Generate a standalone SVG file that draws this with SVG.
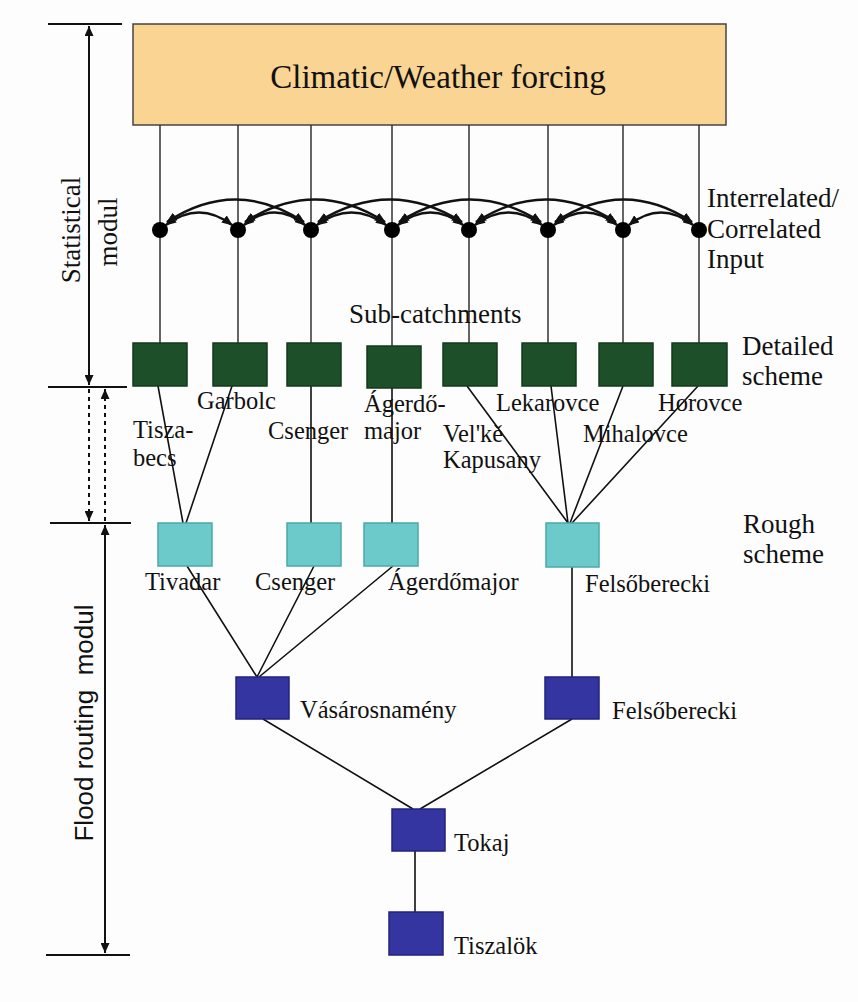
<svg xmlns="http://www.w3.org/2000/svg" width="858" height="1002" viewBox="0 0 858 1002">
<defs>
<style>
.t{font-family:"Liberation Serif","Times New Roman",serif;fill:#111;}
.st{font-size:24.5px;}
.lg{font-size:27px;}
.ln{stroke:#333;stroke-width:1.5;fill:none;}
.rl{stroke:#111;stroke-width:1.6;fill:none;}
.sc{stroke:#111;stroke-width:2;fill:none;}
.arc{stroke:#111;stroke-width:2.4;fill:none;marker-start:url(#ah);marker-end:url(#ah);}
.dg{fill:#1d4f29;stroke:#123a1c;stroke-width:1.5;}
.cy{fill:#6ccaca;stroke:#4aa8a8;stroke-width:1.5;}
.bl{fill:#3535a2;stroke:#22227a;stroke-width:1.5;}
</style>
<marker id="sa" markerWidth="10" markerHeight="9" refX="10" refY="4.5" orient="auto-start-reverse" markerUnits="userSpaceOnUse"><path d="M0,0 L10,4.5 L0,9 z" fill="#111"/></marker>
<marker id="ah" markerWidth="11" markerHeight="9" refX="10" refY="4.5" orient="auto-start-reverse" markerUnits="userSpaceOnUse"><path d="M0,0 L11,4.5 L0,9 z" fill="#111"/></marker>
</defs>
<rect width="858" height="1002" fill="#fdfdfd"/>

<g id="scale">
<path class="sc" d="M48,24 H122 M48,387 H127 M50,523 H131 M46,955 H130" stroke-width="1.5"/>
<path class="sc" d="M89,26 V385" marker-start="url(#sa)" marker-end="url(#sa)"/>
<path class="sc" d="M89,389 V521" stroke-dasharray="4 4" marker-end="url(#sa)"/>
<path class="sc" d="M105,521 V389" stroke-dasharray="4 4" marker-end="url(#sa)"/>
<path class="sc" d="M105,525 V953" marker-start="url(#sa)" marker-end="url(#sa)"/>
<text class="t" font-size="27" text-anchor="middle" transform="translate(80,230) rotate(-90)">Statistical</text>
<text class="t" font-size="27" text-anchor="middle" transform="translate(117,232) rotate(-90)">modul</text>
<text xml:space="preserve" style="white-space:pre" font-family="'Liberation Sans',Arial,sans-serif" font-size="26" fill="#111" text-anchor="middle" transform="translate(93,723) rotate(-90)">Flood routing  modul</text>
</g>

<g id="forcing">
<rect x="133" y="24" width="593" height="101" fill="#f9d492" stroke="#444" stroke-width="1.5"/>
<text class="t" x="438" y="88" font-size="33" text-anchor="middle">Climatic/Weather forcing</text>
</g>

<g id="connectors">
<path class="ln" d="M160,125 V343 M238,125 V343 M311,125 V343 M392,125 V346 M469,125 V343 M548,125 V343 M623,125 V343 M699,125 V343"/>
<g id="correlations">
<path class="arc" d="M166,225 Q199,200 232,225"/>
<path class="arc" d="M244,225 Q274.5,200 305,225"/>
<path class="arc" d="M317,225 Q351.5,200 386,225"/>
<path class="arc" d="M398,225 Q430.5,200 463,225"/>
<path class="arc" d="M475,225 Q508.5,200 542,225"/>
<path class="arc" d="M554,225 Q585.5,200 617,225"/>
<path class="arc" d="M629,225 Q661,200 693,225"/>
<path class="arc" d="M167,222 Q235.5,177 304,222"/>
<path class="arc" d="M245,222 Q315,177 385,222"/>
<path class="arc" d="M318,222 Q390,177 462,222"/>
<path class="arc" d="M399,222 Q470,177 541,222"/>
<path class="arc" d="M476,222 Q546,177 616,222"/>
<path class="arc" d="M555,222 Q624,177 692,222"/>
</g>
<path class="rl" d="M158,386 L183,523 M233,383 L186,523 M311,386 V523 M392,388 V523 M467,386 L568,523 M551,386 L568,523 M623,386 L570,523 M698,386 L572,523"/>
<path class="rl" d="M187,566 L257,677 M314,566 L257,677 M393,566 L259,677 M572,567 V677"/>
<path class="rl" d="M263,719 L413,809 M572,719 L420,809 M415,851 V912"/>
</g>

<g id="inputs">
<circle cx="160" cy="230" r="8" fill="#000"/>
<circle cx="238" cy="230" r="8" fill="#000"/>
<circle cx="311" cy="230" r="8" fill="#000"/>
<circle cx="392" cy="230" r="8" fill="#000"/>
<circle cx="469" cy="230" r="8" fill="#000"/>
<circle cx="548" cy="230" r="8" fill="#000"/>
<circle cx="623" cy="230" r="8" fill="#000"/>
<circle cx="699" cy="230" r="8" fill="#000"/>
<text class="t lg" x="707" y="207">Interrelated/</text>
<text class="t lg" x="707" y="238">Correlated</text>
<text class="t lg" x="707" y="268">Input</text>
</g>

<g id="labels-right">
<text class="t lg" x="349" y="323">Sub-catchments</text>
<text class="t lg" x="742" y="355">Detailed</text>
<text class="t lg" x="742" y="385">scheme</text>
<text class="t lg" x="743" y="533">Rough</text>
<text class="t lg" x="743" y="563">scheme</text>
</g>

<g id="d-tiszabecs"><rect class="dg" x="133" y="343" width="54" height="43"/><text class="t st" x="133" y="438">Tisza-</text><text class="t st" x="133" y="466">becs</text></g>
<g id="d-garbolc"><rect class="dg" x="213" y="343" width="54" height="43"/><text class="t st" x="197" y="409">Garbolc</text></g>
<g id="d-csenger"><rect class="dg" x="287" y="343" width="54" height="43"/><text class="t st" x="268" y="439">Csenger</text></g>
<g id="d-agerdomajor"><rect class="dg" x="367" y="346" width="54" height="42"/><text class="t st" x="364" y="412">Ágerdő-</text><text class="t st" x="364" y="439">major</text></g>
<g id="d-velke"><rect class="dg" x="443" y="343" width="54" height="43"/><text class="t st" x="443" y="442">Vel'kě</text><text class="t st" x="443" y="468">Kapusany</text></g>
<g id="d-lekarovce"><rect class="dg" x="522" y="343" width="54" height="43"/><text class="t st" x="496" y="411">Lekarovce</text></g>
<g id="d-mihalovce"><rect class="dg" x="599" y="343" width="54" height="43"/><text class="t st" x="583" y="442">Mihalovce</text></g>
<g id="d-horovce"><rect class="dg" x="672" y="343" width="55" height="43"/><text class="t st" x="658" y="411">Horovce</text></g>

<g id="r-tivadar"><rect class="cy" x="158" y="523" width="54" height="43"/><text class="t st" x="145" y="590">Tivadar</text></g>
<g id="r-csenger"><rect class="cy" x="287" y="523" width="54" height="43"/><text class="t st" x="255" y="590">Csenger</text></g>
<g id="r-agerdomajor"><rect class="cy" x="364" y="523" width="54" height="43"/><text class="t st" x="388" y="590">Ágerdőmajor</text></g>
<g id="r-felsoberecki"><rect class="cy" x="546" y="523" width="53" height="44"/><text class="t st" x="585" y="592">Felsőberecki</text></g>

<g id="vasarosnameny"><rect class="bl" x="236" y="677" width="53" height="42"/><text class="t st" x="300" y="718">Vásárosnamény</text></g>
<g id="felsoberecki"><rect class="bl" x="545" y="677" width="54" height="42"/><text class="t st" x="612" y="719">Felsőberecki</text></g>
<g id="tokaj"><rect class="bl" x="392" y="809" width="53" height="42"/><text class="t st" x="454" y="851">Tokaj</text></g>
<g id="tiszalok"><rect class="bl" x="389" y="912" width="54" height="43"/><text class="t st" x="454" y="954">Tiszalök</text></g>
</svg>
